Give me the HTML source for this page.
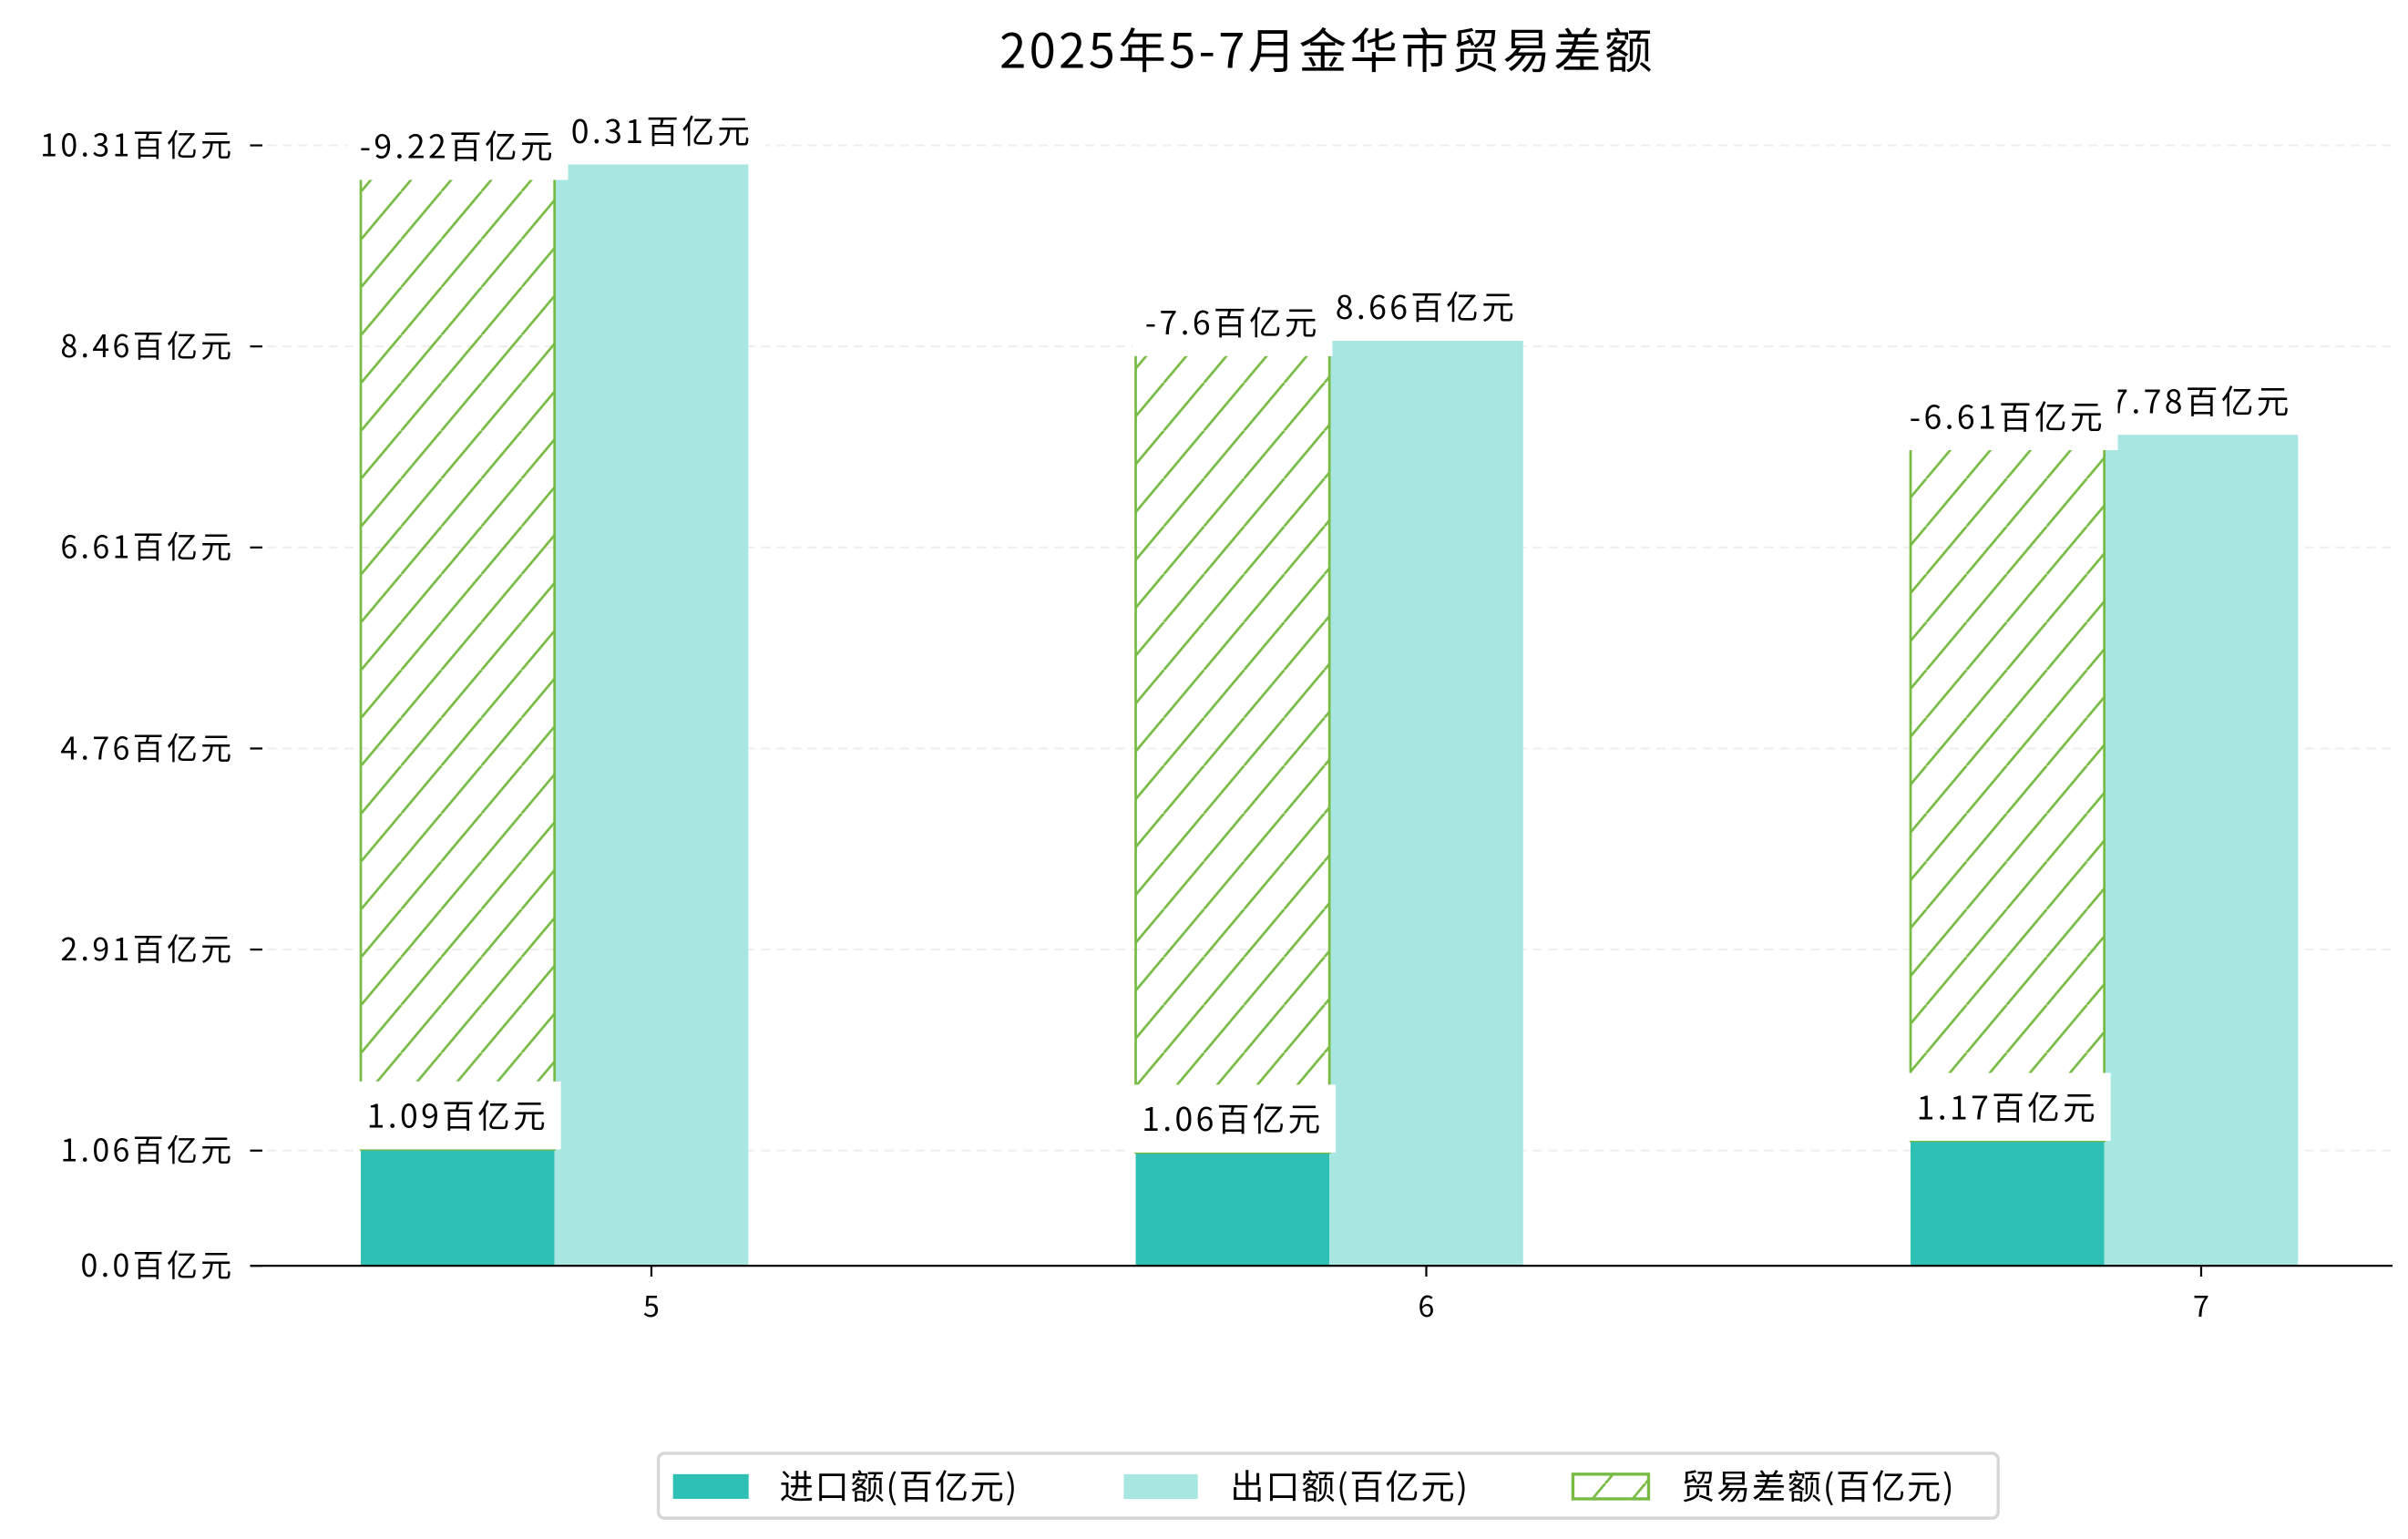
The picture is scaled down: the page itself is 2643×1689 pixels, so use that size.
<!DOCTYPE html>
<html><head><meta charset="utf-8">
<style>
html,body{margin:0;padding:0;background:#fff;}
svg{display:block;}
text{font-family:"WenQuanYi Zen Hei","Noto Sans CJK SC","Liberation Sans",sans-serif;}
.num{letter-spacing:2px;}
</style></head>
<body>
<svg id="chart" width="2643" height="1689" viewBox="0 0 1560 997" preserveAspectRatio="none" xmlns="http://www.w3.org/2000/svg">
<defs>
<pattern id="hatch" patternUnits="userSpaceOnUse" width="26" height="31" x="0" y="0">
<line x1="0" y1="31" x2="26" y2="0" stroke="#77bb44" stroke-width="1.6"/>
<line x1="-26" y1="31" x2="0" y2="0" stroke="#77bb44" stroke-width="1.6"/>
<line x1="26" y1="31" x2="52" y2="0" stroke="#77bb44" stroke-width="1.6"/>
</pattern>
</defs>
<text x="860" y="44" text-anchor="middle" font-size="31" letter-spacing="2" fill="#000">2025年5-7月金华市贸易差额</text>
<g id="grid"></g>
<g id="bars"></g>
<g id="labels"></g>
<line x1="163" y1="820" x2="1550" y2="820" stroke="#000" stroke-width="1.3"/>
<g>
<rect x="426.5" y="941.5" width="868" height="42" rx="4" fill="#fff" stroke="#d6d6d6" stroke-width="2"/>
<rect x="436" y="955" width="49" height="16" fill="#2ec0b4"/>
<text x="505" y="971" font-size="22" letter-spacing="1">进口额(百亿元)</text>
<rect x="728" y="955" width="48" height="16" fill="#a8e7e1"/>
<text x="797" y="971" font-size="22" letter-spacing="1">出口额(百亿元)</text>
<rect x="1019" y="955" width="49" height="16" fill="url(#hatch)" stroke="#77bb44" stroke-width="2"/>
<text x="1089" y="971" font-size="22" letter-spacing="1">贸易差额(百亿元)</text>
</g>
</svg>
<script>
const categories = ['5', '6', '7'];
const importValues = [1.09, 1.06, 1.17];
const exportValues = [10.31, 8.66, 7.78];
const balanceValues = [-9.22, -7.6, -6.61];
const tickValues = [0.0, 1.06, 2.91, 4.76, 6.61, 8.46, 10.31];
const tickLabels = ['0.0百亿元', '1.06百亿元', '2.91百亿元', '4.76百亿元', '6.61百亿元', '8.46百亿元', '10.31百亿元'];

const NS = 'http://www.w3.org/2000/svg';
const baseY = 820;
const barK = 69.2;
const tickK = 70.4;
function yBar(v){ return baseY - v * barK; }
function yTick(v){ return baseY - v * tickK; }
function xCenter(i){ return 422 + i * 502; }
const bw = 125.5;
function mk(tag, attrs, parent){
  const e = document.createElementNS(NS, tag);
  for (const k in attrs) e.setAttribute(k, attrs[k]);
  parent.appendChild(e);
  return e;
}
const grid = document.getElementById('grid');
const bars = document.getElementById('bars');
const labels = document.getElementById('labels');

tickValues.forEach((v, i) => {
  const y = yTick(v);
  if (v > 0) {
    const g = mk('line', {x1:163, x2:1550, y1:y, y2:y, stroke:'#eeeeee', 'stroke-width':1.2, 'stroke-dasharray':'6 4'}, grid);
    
    
  }
  const t = mk('line', {x1:162, x2:170, y1:y, y2:y, stroke:'#000', 'stroke-width':1.3}, grid);
  
  
  const l = mk('text', {x:152, y:y+7, 'text-anchor':'end', 'font-size':20, 'class':'num'}, grid);
  l.textContent = tickLabels[i];
  
  
});

function addLabel(cx, topY, txt, name){
  const g = mk('g', {}, labels);
  
  
  const t = mk('text', {x:cx, y:topY - 14, 'text-anchor':'middle', 'font-size':21, 'class':'num'}, g);
  t.textContent = txt;
  const w = t.getComputedTextLength ? t.getComputedTextLength() : 130;
  const r = mk('rect', {x:cx - w/2 - 8, y:topY - 44, width:w + 16, height:44, fill:'#fff'}, g);
  g.insertBefore(r, t);
}

categories.forEach((c, i) => {
  const cx = xCenter(i);
  const x0 = cx - 1.5 * bw;
  const ex = cx - 0.5 * bw;
  const iTop = yBar(importValues[i]);
  const eTop = yBar(exportValues[i]);
  const bTop = iTop - Math.abs(balanceValues[i]) * barK;

  const ib = mk('rect', {x:x0, y:iTop, width:bw, height:baseY - iTop, fill:'#2ec0b4'}, bars);
  
  
  const eb = mk('rect', {x:ex, y:eTop, width:bw, height:baseY - eTop, fill:'#a8e7e1'}, bars);
  
  
  const hb = mk('rect', {x:x0, y:bTop, width:bw, height:iTop - bTop, fill:'url(#hatch)', stroke:'#77bb44', 'stroke-width':1.6}, bars);
  
  

  const tk = mk('line', {x1:cx, x2:cx, y1:baseY, y2:baseY + 7, stroke:'#000', 'stroke-width':1.3}, grid);
  
  
  const xl = mk('text', {x:cx, y:853, 'text-anchor':'middle', 'font-size':19}, grid);
  xl.textContent = c;
  
  

  addLabel(ex + bw/2, eTop, exportValues[i] + '百亿元', 'export-value-label');
  addLabel(x0 + bw/2, bTop + 10, balanceValues[i] + '百亿元', 'balance-value-label');
  addLabel(x0 + bw/2, iTop, importValues[i] + '百亿元', 'import-value-label');
});
</script>
</body></html>
